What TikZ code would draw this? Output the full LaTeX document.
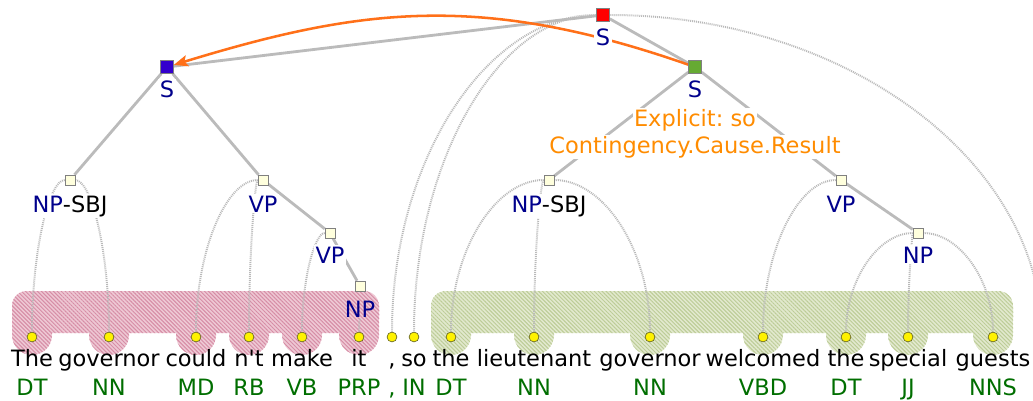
\documentclass[tikz,border=0pt]{standalone}
\usepackage{fontspec}
\setmainfont{DejaVu Sans}
\usetikzlibrary{arrows.meta,calc,backgrounds,patterns.meta}

\definecolor{catblue}{RGB}{0,0,140}
\definecolor{taggreen}{RGB}{0,110,0}
\definecolor{reltext}{RGB}{255,140,0}
\definecolor{relline}{RGB}{255,112,25}
\definecolor{edgegray}{RGB}{187,187,187}
\definecolor{arcgray}{RGB}{185,185,185}
\definecolor{phrasefill}{RGB}{255,255,221}
\definecolor{dotrim}{RGB}{110,110,40}
\definecolor{rootred}{RGB}{255,0,0}
\definecolor{argone}{RGB}{51,0,204}
\definecolor{argtwo}{RGB}{102,170,51}
\definecolor{pinkfill}{RGB}{238,200,212}
\definecolor{pinkline}{RGB}{214,140,165}
\definecolor{greenfill}{RGB}{226,233,206}
\definecolor{greenline}{RGB}{188,204,150}

\tikzset{
  sbox/.style={draw=gray, line width=0.6pt, minimum size=9pt, inner sep=0pt},
  phrase/.style={draw=gray, fill=phrasefill, line width=0.5pt, minimum size=7pt, inner sep=0pt},
  cat/.style={text=catblue, fill=white, inner sep=1pt, anchor=base},
  rel/.style={text=reltext, fill=white, inner sep=1pt, anchor=base},
  leaf/.style={circle, draw=dotrim, fill=yellow, line width=0.5pt, minimum size=7pt, inner sep=0pt},
  word/.style={anchor=base, inner sep=0pt},
  tag/.style={anchor=base, inner sep=0pt, text=taggreen},
  treeedge/.style={draw=edgegray, line width=2pt},
  treearc/.style={draw=arcgray, line width=1.4pt, dash pattern=on 0.7pt off 0.7pt,
    to path={.. controls ($(\tikztostart)!0.55!(\tikztostart -| \tikztotarget)$)
      and ($(\tikztotarget)!0.55!(\tikztotarget |- \tikztostart)$) .. (\tikztotarget)}},
  relarrow/.style={draw=relline, line width=1.8pt, -{Stealth[length=10pt,width=8pt,inset=2pt]}},
  pinkzone/.style={preaction={fill=pinkfill}, pattern={Lines[angle=-45,distance=2pt,line width=0.7pt]}, pattern color=pinkline},
  greenzone/.style={preaction={fill=greenfill}, pattern={Lines[angle=-45,distance=2pt,line width=0.7pt]}, pattern color=greenline}
}

\begin{document}
\frenchspacing
\begin{tikzpicture}[x=0.025cm, y=-0.025cm, font=\fontsize{16}{19.2}\selectfont]
\useasboundingbox (0,0) rectangle (1033,401);

% tokens with their tags
\foreach \i/\x/\w/\t in {1/32/The/DT, 2/109/governor/NN, 3/196/could/MD, 4/249/{n\textquotesingle t}/RB,
    5/302/make/VB, 6/359/it/PRP, 7/392/{,}/{,}, 8/414/so/IN, 9/451/the/DT, 10/534/lieutenant/NN,
    11/650/governor/NN, 12/763/welcomed/VBD, 13/846/the/DT, 14/908/special/JJ, 15/993/guests/NNS} {
  \node[leaf] (w\i) at (\x,337) {};
  \node[word] (t\i) at (\x,366) {\w};
  \node[tag] (p\i) at (\x,395) {\t};
}

% sentence nodes
\node[sbox, fill=rootred] (s0) at (603,15) {};
\node[sbox, fill=argone] (s1) at (167,67) {};
\node[sbox, fill=argtwo] (s2) at (695,67) {};
\node[cat] (s0l) at (603,45) {S};
\node[cat] (s1l) at (167,97) {S};
\node[cat] (s2l) at (695,97) {S};

% phrase nodes
\node[phrase] (np1) at (70,180) {};
\node[phrase] (vp1) at (263,180) {};
\node[phrase] (vp2) at (330,233) {};
\node[phrase] (np2) at (360,286) {};
\node[phrase] (np3) at (549,180) {};
\node[phrase] (vp3) at (841,180) {};
\node[phrase] (np4) at (918,233) {};
\node[cat] (np1l) at (70,212) {NP\textcolor{black}{-SBJ}};
\node[cat] (vp1l) at (263,212) {VP};
\node[cat] (vp2l) at (330,263) {VP};
\node[cat, fill=none] (np2l) at (360,317) {NP};
\node[cat] (np3l) at (549,212) {NP\textcolor{black}{-SBJ}};
\node[cat] (vp3l) at (841,212) {VP};
\node[cat] (np4l) at (918,263) {NP};

% discourse relation
\node[rel] (rel) at (695,126) {Explicit: so};
\node[rel] (relsense) at (695,153) {Contingency.Cause.Result};

\coordinate (rim) at (1042,337);

\begin{scope}[on background layer]
% argument spans
\path[pinkzone, rounded corners=10.5pt] (12,291) rectangle (379,333);
\foreach \x in {32,109,196,249,302,359} {
  \path[pinkzone] (\x-20,310) rectangle (\x+20,335);
  \path[pinkzone] (\x,335) circle[radius=20];
}
\path[greenzone, rounded corners=10.5pt] (431,291) rectangle (1013,333);
\foreach \x in {451,534,650,763,846,908,993} {
  \path[greenzone] (\x-20,310) rectangle (\x+20,335);
  \path[greenzone] (\x,335) circle[radius=20];
}

% phrase to token links
\draw[treearc] (np1) to (w1) (np1) to (w2);
\draw[treearc] (vp1) to (w3) (vp1) to (w4);
\draw[treearc] (vp2) to (w5);
\draw[treearc] (np2l.south) to (w6);
\draw[treearc] (s0) to (w7) (s0) to (w8) (s0) to (rim);
\draw[treearc] (np3) to (w9) (np3) to (w10) (np3) to (w11);
\draw[treearc] (vp3) to (w12);
\draw[treearc] (np4) to (w13) (np4) to (w14) (np4) to (w15);

% tree edges
\draw[treeedge] (s0) -- (s1);
\draw[treeedge] (s0) -- (s2);
\draw[treeedge] (s1) -- (np1);
\draw[treeedge] (s1) -- (vp1);
\draw[treeedge] (vp1) -- (vp2);
\draw[treeedge] (vp2) -- (np2);
\draw[treeedge] (s2) -- (np3);
\draw[treeedge] (s2) -- (vp3);
\draw[treeedge] (vp3) -- (np4);

% relation arrow
\draw[relarrow] (s2) .. controls (480,-8) and (360,8) .. (s1);
\end{scope}
\end{tikzpicture}
\end{document}
